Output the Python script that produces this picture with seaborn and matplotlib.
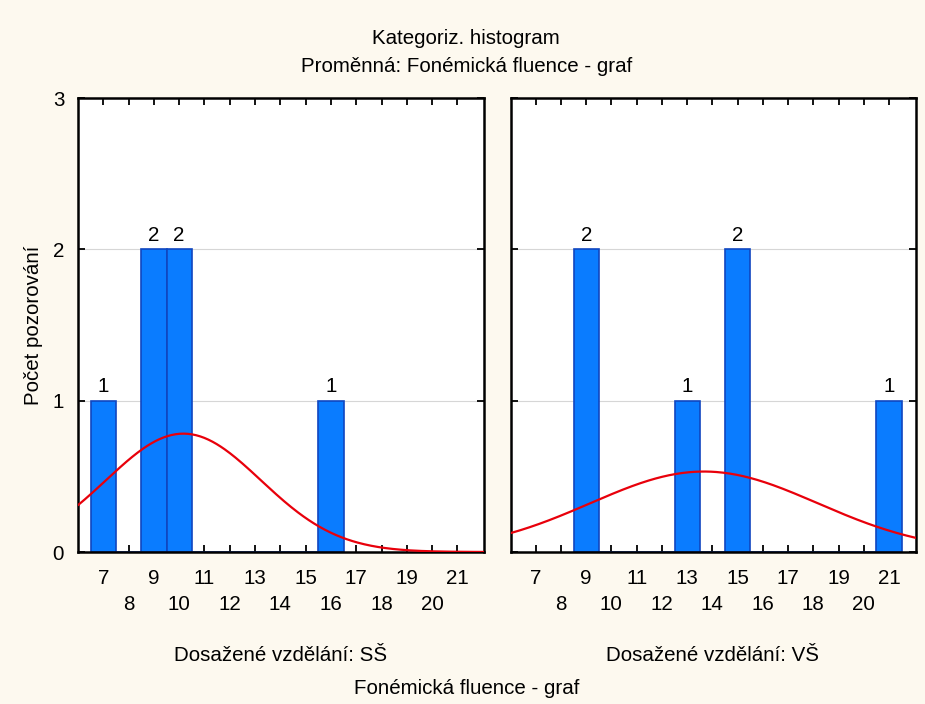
import numpy as np
import matplotlib
matplotlib.use("Agg")
import matplotlib.pyplot as plt
import seaborn as sns
from matplotlib.ticker import MultipleLocator, FixedLocator

# ====== Data ======
ss_values = [7, 9, 9, 10, 10, 16]      # Dosažené vzdělání: SŠ
vs_values = [9, 9, 13, 15, 15, 21]     # Dosažené vzdělání: VŠ
panel_titles = ["Dosažené vzdělání: SŠ", "Dosažené vzdělání: VŠ"]
odd_ticks = [7, 9, 11, 13, 15, 17, 19, 21]
even_ticks = [8, 10, 12, 14, 16, 18, 20]

bg = "#fdf9ef"
bar_face = "#0a7cff"
bar_edge = "#1046c0"
fs = 14.8

sns.set_theme(style="white")
plt.rcParams["font.family"] = ["Liberation Sans", "DejaVu Sans"]
plt.rcParams["text.color"] = "black"
plt.rcParams["axes.labelcolor"] = "black"
plt.rcParams["xtick.color"] = "black"
plt.rcParams["ytick.color"] = "black"

fig = plt.figure(figsize=(9.25, 7.04), dpi=100, facecolor=bg)
ax1 = fig.add_axes([78 / 925, 152 / 704, 406 / 925, 454 / 704])
ax2 = fig.add_axes([510.5 / 925, 152 / 704, 405 / 925, 454 / 704], sharey=ax1)

for ax, vals, name in zip([ax1, ax2], [ss_values, vs_values], panel_titles):
    ax.set_facecolor("white")
    ax.grid(axis="y", color="#d6d6d6", lw=0.8)
    ax.set_axisbelow(True)
    sns.histplot(x=vals, discrete=True, ax=ax, color=bar_face, edgecolor=bar_edge,
                 alpha=1, linewidth=1.2, zorder=2)
    bars = ax.containers[0]
    labels = [str(int(b.get_height())) if b.get_height() > 0 else "" for b in bars]
    ax.bar_label(bars, labels=labels, padding=3, fontsize=fs, color="black")

    # fitted normal curve (count scale, bin width 1)
    mu = np.mean(vals)
    sd = np.std(vals, ddof=1)
    xs = np.linspace(6.0, 22.05, 300)
    ys = len(vals) / (sd * np.sqrt(2 * np.pi)) * np.exp(-0.5 * ((xs - mu) / sd) ** 2)
    ax.plot(xs, ys, color="#e8000b", lw=1.6, zorder=3)

    ax.set_xlim(6.0, 22.05)
    ax.set_ylim(0, 3)
    ax.xaxis.set_major_locator(FixedLocator(odd_ticks))
    ax.xaxis.set_minor_locator(FixedLocator(even_ticks))
    ax.set_xticklabels([str(t) for t in odd_ticks])
    ax.set_xticklabels([str(t) for t in even_ticks], minor=True)
    ax.yaxis.set_major_locator(MultipleLocator(1))
    ax.tick_params(axis="both", which="both", direction="in", length=5, width=1.3,
                   top=True, right=True, left=True, bottom=True, labelsize=fs,
                   color="black", labelcolor="black")
    ax.tick_params(axis="x", which="major", pad=12)
    ax.tick_params(axis="x", which="minor", pad=31)
    ax.tick_params(axis="y", pad=10)
    for s in ax.spines.values():
        s.set_color("black")
        s.set_linewidth(1.8)
    ax.set_ylabel("")
    ax.set_xlabel(name, fontsize=fs, labelpad=23, color="black")

ax2.tick_params(axis="y", labelleft=False)

ax1.set_ylabel("Počet pozorování", fontsize=fs, labelpad=7, color="black")
fig.text(0.504, 1 - 38 / 704, "Kategoriz. histogram", ha="center", va="center", fontsize=fs)
fig.text(0.504, 1 - 66 / 704, "Proměnná: Fonémická fluence - graf", ha="center", va="center", fontsize=fs)
fig.text(0.504, 1 - 688 / 704, "Fonémická fluence - graf", ha="center", va="center", fontsize=fs)

fig.savefig("out.png", dpi=100, facecolor=bg)
